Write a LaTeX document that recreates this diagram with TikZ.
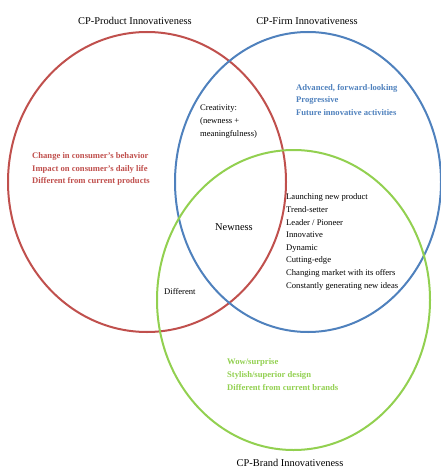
\documentclass[tikz,border=0pt]{standalone}
\usepackage{fontspec}
\setmainfont{Liberation Serif}
\definecolor{cpred}{HTML}{C0504D}
\definecolor{cpblue}{HTML}{4F81BD}
\definecolor{cpgreen}{HTML}{92D050}
\begin{document}
\begin{tikzpicture}[x=1pt,y=-1pt,
  ring/.style={line width=2pt},
  title/.style={font=\fontsize{10.4}{12}\selectfont, inner sep=0pt},
  list/.style={align=left, anchor=west, inner sep=0pt, font=\fontsize{8.6}{12.6}\selectfont},
  blist/.style={list, font=\fontsize{8.6}{12.6}\selectfont\bfseries}]
\useasboundingbox (0,0) rectangle (441,468);
\draw[ring, cpred] (147,182) ellipse [x radius=139, y radius=150];
\draw[ring, cpblue] (308,182) ellipse [x radius=133, y radius=150];
\draw[ring, cpgreen] (293.5,300) ellipse [x radius=136.5, y radius=150];
\node[title] (tp) at (135,21) {CP-Product Innovativeness};
\node[title] (tf) at (307,21) {CP-Firm Innovativeness};
\node[title] (tb) at (290,463) {CP-Brand Innovativeness};
\node[blist, text=cpred] (pl) at (32,169) {Change in consumer’s behavior\\Impact on consumer’s daily life\\Different from current products};
\node[blist, text=cpblue] (fl) at (296,100) {Advanced, forward-looking\\Progressive\\Future innovative activities};
\node[blist, text=cpgreen] (bl) at (227,374.5) {Wow/surprise\\Stylish/superior design\\Different from current brands};
\node[list] (cr) at (200,121.5) {Creativity:\\(newness +\\meaningfulness)};
\node[title] (nw) at (234,227) {Newness};
\node[list] (fb) at (286,242) {Launching new product\\Trend-setter\\Leader / Pioneer\\Innovative\\Dynamic\\Cutting-edge\\Changing market with its offers\\Constantly generating new ideas};
\node[list] (df) at (164,292) {Different};
\end{tikzpicture}
\end{document}
